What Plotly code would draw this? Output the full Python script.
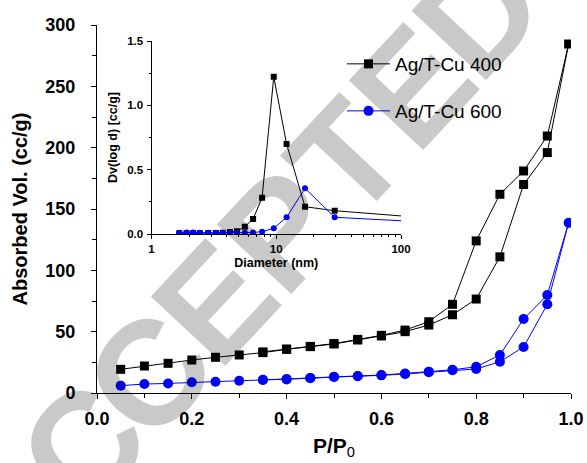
import plotly.graph_objects as go

# ---------------- data ----------------
# Main isotherm: Ag/T-Cu 400 (adsorption then desorption branch)
p400 = [0.05, 0.10, 0.15, 0.20, 0.25, 0.30, 0.35, 0.40, 0.45, 0.50, 0.55, 0.60, 0.65, 0.70, 0.75, 0.80, 0.85, 0.90, 0.95, 0.995,
        0.95, 0.90, 0.85, 0.80, 0.75, 0.70, 0.65, 0.60, 0.55, 0.50, 0.45, 0.40, 0.35]
v400 = [19.3, 22.0, 24.2, 26.9, 29.1, 31.0, 32.9, 35.6, 37.8, 40.0, 43.2, 46.5, 50.0, 55.4, 63.8, 76.6, 111.0, 170.0, 196.0, 284.5,
        209.5, 181.0, 162.0, 124.0, 72.3, 58.1, 51.3, 47.0, 43.7, 40.3, 38.0, 35.8, 33.5]

# Main isotherm: Ag/T-Cu 600
p600 = [0.05, 0.10, 0.15, 0.20, 0.25, 0.30, 0.35, 0.40, 0.45, 0.50, 0.55, 0.60, 0.65, 0.70, 0.75, 0.80, 0.85, 0.90, 0.95, 0.995,
        0.95, 0.90, 0.85, 0.80, 0.75, 0.70, 0.65, 0.60, 0.55, 0.50, 0.45, 0.40, 0.35]
v600 = [6.0, 7.3, 7.8, 8.7, 9.2, 10.0, 10.6, 11.1, 12.0, 13.0, 13.6, 14.4, 15.5, 17.0, 18.5, 19.6, 25.5, 37.5, 72.3, 138.8,
        79.9, 60.3, 31.0, 21.4, 18.9, 17.4, 15.8, 14.6, 13.9, 13.3, 12.3, 11.4, 10.8]

# Inset: pore size distribution
d_pore = [1.67, 1.91, 2.16, 2.44, 2.85, 3.28, 3.72, 4.25, 4.85, 5.6, 6.52, 7.7, 9.55, 12.1, 17.0, 29.4, 150.0]
dv400 = [0.005, 0.005, 0.006, 0.006, 0.007, 0.008, 0.010, 0.015, 0.022, 0.057, 0.117, 0.282, 1.222, 0.700, 0.212, 0.181, 0.127]
dv600 = [0.010, 0.011, 0.011, 0.010, 0.010, 0.010, 0.010, 0.010, 0.010, 0.010, 0.012, 0.018, 0.044, 0.130, 0.355, 0.130, 0.094]

names = ["Ag/T-Cu 400", "Ag/T-Cu 600"]
watermark = "ACCEPTED"

FONT = "Liberation Sans, Arial, sans-serif"
W, H = 587, 463
ML, MR, MT, MB = 97, 16, 25, 70
PW, PH = W - ML - MR, H - MT - MB


def px2paper(x, y):
    return (x - ML) / PW, (H - MB - y) / PH


fig = go.Figure()

fig.add_trace(go.Scatter(x=p400, y=v400, mode="lines+markers", name=names[0],
                         line=dict(color="black", width=1),
                         marker=dict(symbol="square", size=9, color="black"),
                         legend="legend"))
fig.add_trace(go.Scatter(x=p600, y=v600, mode="lines+markers", name=names[1],
                         line=dict(color="#0000ff", width=1),
                         marker=dict(symbol="circle", size=10, color="#0000ff"),
                         legend="legend2"))

fig.add_trace(go.Scatter(x=d_pore, y=dv400, mode="lines+markers", showlegend=False,
                         xaxis="x2", yaxis="y2",
                         line=dict(color="black", width=1),
                         marker=dict(symbol="square", size=6, color="black")))
fig.add_trace(go.Scatter(x=d_pore, y=dv600, mode="lines+markers", showlegend=False,
                         xaxis="x2", yaxis="y2",
                         line=dict(color="#0000ff", width=1),
                         marker=dict(symbol="circle", size=6, color="#0000ff")))

# inset domains
ix0, iy0 = px2paper(151.5, 234)
ix1, iy1 = px2paper(401, 41)

axis_common = dict(showline=True, linecolor="black", linewidth=1, mirror=False,
                   showgrid=False, zeroline=False, ticks="outside", tickcolor="black")

fig.update_layout(
    width=W, height=H,
    margin=dict(l=ML, r=MR, t=MT, b=MB, autoexpand=False),
    paper_bgcolor="white", plot_bgcolor="white",
    font=dict(family=FONT, color="black"),
    xaxis=dict(**axis_common, range=[0, 1.0], dtick=0.2, tickformat=".1f", ticklen=5, tickwidth=1,
               minor=dict(dtick=0.1, ticks="outside", ticklen=4, tickcolor="black"),
               tickfont=dict(size=18, weight="bold", family=FONT),
               ticklabelstandoff=4,
               title=dict(text="<b>P/P</b><sub>0</sub>", font=dict(size=21, family=FONT), standoff=10)),
    yaxis=dict(**axis_common, range=[0, 300], dtick=50, ticklen=5, tickwidth=1,
               minor=dict(dtick=25, ticks="outside", ticklen=4, tickcolor="black"),
               tickfont=dict(size=18, weight="bold", family=FONT),
               ticklabelstandoff=12,
               title=dict(text="Absorbed Vol. (cc/g)", font=dict(size=20, weight="bold", family=FONT), standoff=12)),
    xaxis2=dict(**axis_common, type="log", range=[0, 2], domain=[ix0, ix1], anchor="y2",
                dtick=1, ticklen=4, tickwidth=1,
                minor=dict(dtick="D1", ticks="outside", ticklen=2, tickcolor="black"),
                tickfont=dict(size=11.5, weight="bold", family=FONT),
                ticklabelstandoff=0,
                title=dict(text="Diameter (nm)", font=dict(size=12.5, weight="bold", family=FONT), standoff=4)),
    yaxis2=dict(**axis_common, range=[0, 1.5], domain=[iy0, iy1], anchor="x2",
                dtick=0.5, tickformat=".1f", ticklen=4, tickwidth=1,
                minor=dict(dtick=0.25, ticks="outside", ticklen=2, tickcolor="black"),
                tickfont=dict(size=11.5, weight="bold", family=FONT),
                ticklabelstandoff=1,
                title=dict(text="Dv(log d) [cc/g]", font=dict(size=12.5, weight="bold", family=FONT), standoff=6)),
    legend=dict(x=px2paper(342, 0)[0], y=px2paper(0, 64)[1], xanchor="left", yanchor="middle",
                bgcolor="rgba(0,0,0,0)", borderwidth=0, itemwidth=43,
                font=dict(size=19, family=FONT)),
    legend2=dict(x=px2paper(342, 0)[0], y=px2paper(0, 111)[1], xanchor="left", yanchor="middle",
                 bgcolor="rgba(0,0,0,0)", borderwidth=0, itemwidth=43,
                 font=dict(size=19, family=FONT)),
)

# watermark letters along a diagonal
cx0, cy0, sx, sy = 16, 518, 66, -72
for i, ch in enumerate(watermark):
    px, py = cx0 + sx * i, cy0 + sy * i
    ax, ay = px2paper(px, py)
    fig.add_annotation(x=ax, y=ay, xref="paper", yref="paper", text=ch, showarrow=False,
                       textangle=-47, xanchor="center", yanchor="middle",
                       font=dict(size=148, weight="bold", family=FONT, color="rgba(0,0,0,0.21)"))

fig.write_html("out.html")
